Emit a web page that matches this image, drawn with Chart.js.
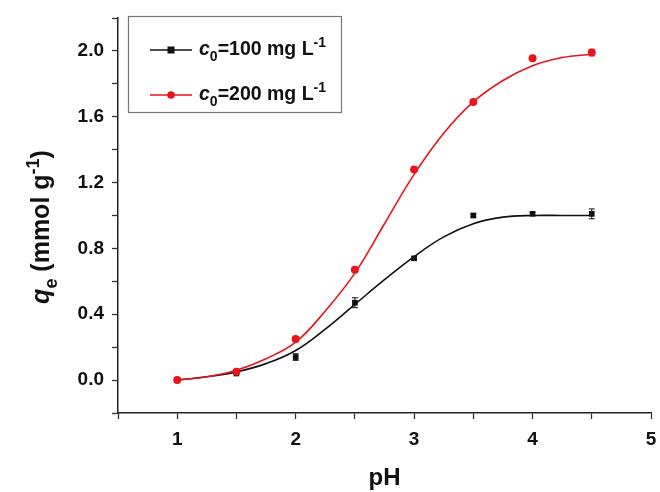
<!DOCTYPE html>
<html>
<head>
<meta charset="utf-8">
<script src="https://cdn.jsdelivr.net/npm/chart.js@4.4.0/dist/chart.umd.min.js"></script>
<style>
html,body{margin:0;padding:0;background:#fff;}
#wrap{width:660px;height:492px;position:relative;}
</style>
</head>
<body>
<div id="wrap"><canvas id="c" width="660" height="492"></canvas></div>
<script>
// measured data points
const phValues = [1, 1.5, 2, 2.5, 3, 3.5, 4, 4.5];
const q100 = [0.00, 0.04, 0.14, 0.47, 0.74, 1.00, 1.01, 1.01];
const q200 = [0.00, 0.05, 0.25, 0.67, 1.28, 1.69, 1.955, 1.99];
const err100 = [0, 0, 0.02, 0.03, 0.01, 0.01, 0.01, 0.03];
const err200 = [0, 0, 0, 0, 0, 0, 0, 0.02];
// fitted curves
const fitPh = [1, 1.25, 1.5, 1.75, 2, 2.25, 2.5, 2.75, 3, 3.25, 3.5, 3.75, 4, 4.25, 4.5];
const fit100 = [0.00, 0.02, 0.05, 0.10, 0.18, 0.31, 0.46, 0.61, 0.75, 0.87, 0.95, 0.99, 1.00, 1.00, 1.00];
const fit200 = [0.00, 0.02, 0.06, 0.13, 0.23, 0.42, 0.65, 0.95, 1.25, 1.50, 1.69, 1.82, 1.91, 1.96, 1.98];
const xTicks = [1, 2, 3, 4, 5];
const yTicks = ['0.0', '0.4', '0.8', '1.2', '1.6', '2.0'];
const seriesNames = ['100', '200'];

const BLACK = '#111111';
const RED = '#e8141c';
const FONT = '"Liberation Sans", Arial, sans-serif';

function pts(xs, ys) { return xs.map((x, i) => ({x: x, y: ys[i]})); }

function drawRich(ctx, parts, x, y, size, measureOnly) {
  let cx = x;
  for (const p of parts) {
    const s = (p.sub || p.sup) ? size * 0.72 : size;
    ctx.font = (p.italic ? 'italic ' : '') + 'bold ' + s + 'px ' + FONT;
    const dy = p.sub ? size * 0.32 : (p.sup ? -size * 0.42 : 0);
    if (!measureOnly) ctx.fillText(p.t, cx, y + dy);
    cx += ctx.measureText(p.t).width;
  }
  return cx - x;
}

const decorPlugin = {
  id: 'decor',
  afterDatasetsDraw(chart) {
    const ctx = chart.ctx;
    const xs = chart.scales.x, ys = chart.scales.y;
    // error bars
    ctx.save();
    const drawErr = (vals, errs, color) => {
      ctx.strokeStyle = color; ctx.lineWidth = 1;
      vals.forEach((v, i) => {
        if (!errs[i]) return;
        const px = xs.getPixelForValue(phValues[i]);
        const y1 = ys.getPixelForValue(v + errs[i]);
        const y2 = ys.getPixelForValue(v - errs[i]);
        ctx.beginPath();
        ctx.moveTo(px, y1); ctx.lineTo(px, y2);
        ctx.moveTo(px - 3, y1); ctx.lineTo(px + 3, y1);
        ctx.moveTo(px - 3, y2); ctx.lineTo(px + 3, y2);
        ctx.stroke();
      });
    };
    drawErr(q100, err100, BLACK);
    drawErr(q200, err200, RED);
    ctx.restore();
  },
  afterDraw(chart) {
    const ctx = chart.ctx;
    ctx.save();
    ctx.fillStyle = '#111';
    ctx.textBaseline = 'alphabetic';
    // x title
    ctx.font = 'bold 24px ' + FONT;
    ctx.textAlign = 'center';
    ctx.fillText('pH', (chart.chartArea.left + chart.chartArea.right) / 2, 485);
    ctx.textAlign = 'left';
    // y title
    const yParts = [{t: 'q', italic: true}, {t: 'e', sub: true}, {t: ' (mmol g'}, {t: '-1', sup: true}, {t: ')'}];
    ctx.save();
    ctx.translate(49, 227);
    ctx.rotate(-Math.PI / 2);
    const w = drawRich(ctx, yParts, 0, 0, 25, true);
    drawRich(ctx, yParts, -w / 2, 0, 25, false);
    ctx.restore();
    // legend
    ctx.strokeStyle = '#777'; ctx.lineWidth = 1.2;
    ctx.strokeRect(128.5, 16.5, 213, 96);
    const rows = [{y: 50, color: BLACK, name: seriesNames[0], square: true},
                  {y: 95, color: RED, name: seriesNames[1], square: false}];
    for (const r of rows) {
      ctx.strokeStyle = r.color; ctx.lineWidth = 1.6;
      ctx.beginPath(); ctx.moveTo(150, r.y); ctx.lineTo(192, r.y); ctx.stroke();
      ctx.fillStyle = r.color;
      if (r.square) { ctx.fillRect(167.5, r.y - 3.5, 7, 7); }
      else { ctx.beginPath(); ctx.arc(171, r.y, 3.8, 0, Math.PI * 2); ctx.fill(); }
      ctx.fillStyle = '#111';
      drawRich(ctx, [{t: 'c', italic: true}, {t: '0', sub: true}, {t: '=' + r.name + ' mg L'}, {t: '-1', sup: true}], 199, r.y + 5, 19.5, false);
    }
    ctx.restore();
  }
};

new Chart(document.getElementById('c'), {
  type: 'line',
  data: {
    datasets: [
      {label: 'm200', data: pts(phValues, q200), showLine: false, pointStyle: 'circle', pointRadius: 4,
       backgroundColor: RED, borderColor: RED, pointBorderWidth: 0, order: 0},
      {label: 'm100', data: pts(phValues, q100), showLine: false, pointStyle: 'rect', pointRadius: 4,
       backgroundColor: BLACK, borderColor: BLACK, pointBorderWidth: 0, order: 1},
      {label: 'f200', data: pts(fitPh, fit200), borderColor: RED, borderWidth: 1.6, pointRadius: 0,
       tension: 0.4, fill: false, order: 2},
      {label: 'f100', data: pts(fitPh, fit100), borderColor: BLACK, borderWidth: 1.6, pointRadius: 0,
       tension: 0.4, fill: false, order: 3}
    ]
  },
  options: {
    responsive: false,
    animation: false,
    events: [],
    layout: {padding: {left: 0, right: 9, top: 18, bottom: 0}},
    plugins: {legend: {display: false}, tooltip: {enabled: false}},
    scales: {
      x: {
        type: 'linear', min: 0.5, max: 5,
        afterFit(s) { s.height = 79; s.paddingLeft = 0; s.paddingRight = 0; },
        afterBuildTicks(s) { const t = []; for (let v = 0.5; v <= 5.0001; v += 0.5) t.push({value: Math.round(v * 10) / 10}); s.ticks = t; },
        ticks: {
          autoSkip: false, maxRotation: 0, color: '#111', padding: 9,
          font: {family: FONT, size: 19, weight: 'bold'},
          callback(v) { return xTicks.includes(v) ? String(v) : ''; }
        },
        grid: {drawOnChartArea: false, drawTicks: true, tickLength: 6, tickColor: '#333', tickWidth: 1.3},
        border: {display: true, color: '#222', width: 1.5}
      },
      y: {
        type: 'linear', min: -0.2, max: 2.2,
        afterFit(s) { s.width = 118; s.paddingTop = 0; s.paddingBottom = 0; },
        afterBuildTicks(s) { const t = []; for (let i = -1; i <= 11; i++) t.push({value: Math.round(i * 2) / 10}); s.ticks = t; },
        ticks: {
          autoSkip: false, color: '#111', padding: 8,
          font: {family: FONT, size: 19, weight: 'bold'},
          callback(v) { const s = v.toFixed(1); return yTicks.includes(s) ? s : ''; }
        },
        grid: {drawOnChartArea: false, drawTicks: true, tickLength: 6, tickColor: '#333', tickWidth: 1.3},
        border: {display: true, color: '#222', width: 1.5}
      }
    }
  },
  plugins: [decorPlugin]
});
</script>
</body>
</html>
